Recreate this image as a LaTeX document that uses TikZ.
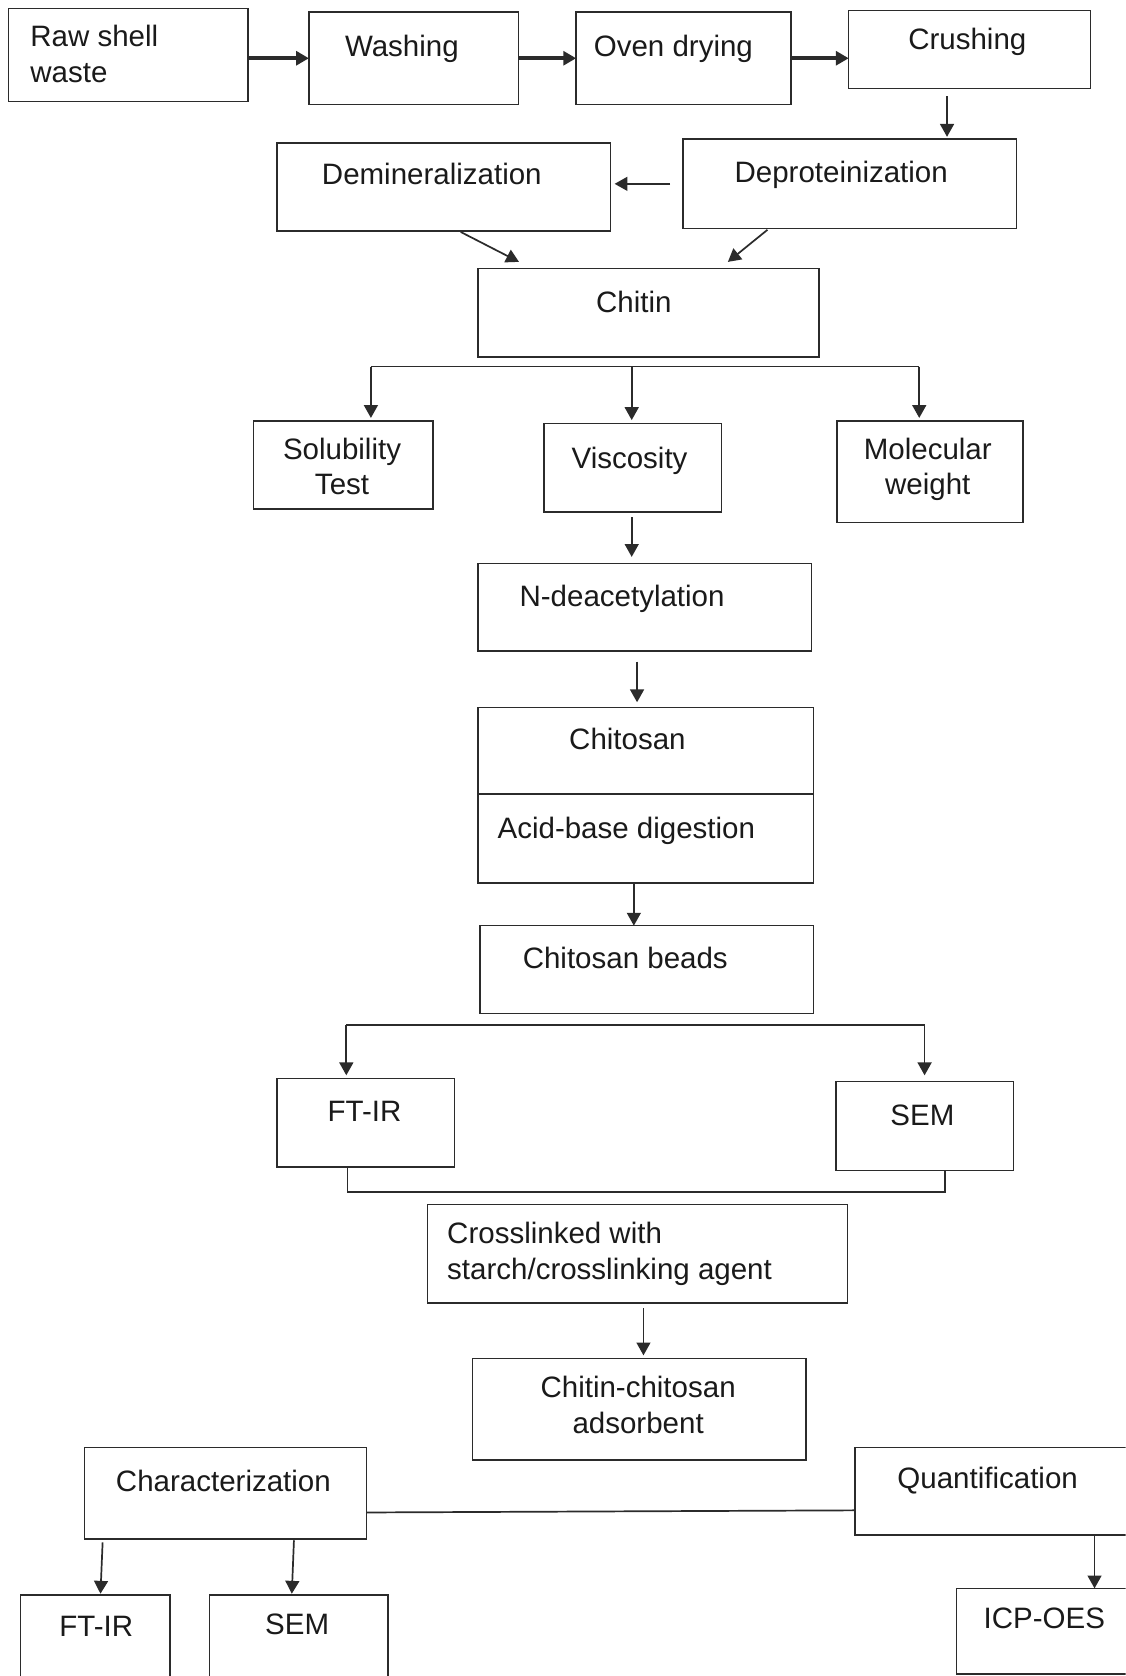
\documentclass[tikz,border=0pt]{standalone}
\usepackage{fontspec}
\setmainfont{Liberation Sans}
\usetikzlibrary{arrows.meta,calc,fit}
\definecolor{ln}{HTML}{2B2B2B}
\definecolor{tx}{HTML}{1A1A1A}
\tikzset{
  boxn/.style={draw=ln, line width=0.7pt, rectangle, inner sep=0pt, outer sep=0pt},
  txt/.style={text=tx, inner sep=0pt, font=\fontsize{13.8pt}{16.7pt}\selectfont},
  arr/.style={draw=ln, line width=0.8pt, -{Triangle[length=6pt,width=6.5pt]}},
  thickarr/.style={draw=ln, line width=1.7pt, -{Triangle[length=6pt,width=6.5pt]}},
  plain/.style={draw=ln, line width=0.8pt}
}
\begin{document}
\begin{tikzpicture}[x=0.5pt,y=-0.5pt]
\useasboundingbox (0,0) rectangle (1053,1568);
\fill[white] (0,0) rectangle (1053,1568);
\clip (0,0) rectangle (1053,1568);

% boxes
\node[boxn, fit={(8,8) (232,95)}] (raw) {};
\node[boxn, fit={(289,11) (485,98)}] (wash) {};
\node[boxn, fit={(539,11) (740,98)}] (oven) {};
\node[boxn, fit={(794,10) (1020,83)}] (crush) {};
\node[boxn, fit={(639,130) (951,214)}] (deprot) {};
\node[boxn, fit={(259,134) (571,216)}] (demin) {};
\node[boxn, fit={(447,251) (766,334)}] (chitin) {};
\node[boxn, fit={(237,394) (405,476)}] (solu) {};
\node[boxn, fit={(509,396) (675,479)}] (visc) {};
\node[boxn, fit={(783,394) (957,489)}] (molw) {};
\node[boxn, fit={(447,527) (759,609)}] (ndeac) {};
\node[boxn, fit={(447,662) (761,743)}] (chitosan) {};
\node[boxn, fit={(447,743) (761,826)}] (acid) {};
\node[boxn, fit={(449,866) (761,948)}] (beads) {};
\node[boxn, fit={(259,1009) (425,1092)}] (ftirA) {};
\node[boxn, fit={(782,1012) (948,1095)}] (semA) {};
\node[boxn, fit={(400,1127) (793,1219)}] (cross) {};
\node[boxn, fit={(442,1271) (754,1366)}] (adsorb) {};
\node[boxn, fit={(79,1354) (343,1440)}] (charz) {};
\node[boxn, fit={(800,1354) (1075,1436)}] (quant) {};
\node[boxn, fit={(19,1492) (159,1600)}] (ftirB) {};
\node[boxn, fit={(196,1492) (363,1600)}] (semB) {};
\node[boxn, fit={(895,1486) (1075,1566)}] (icp) {};

% texts (for two-line texts the base anchor is the last line)
\node[txt, anchor=base west, align=left] (rawT) at (28,77) {Raw shell\\waste};
\node[txt, anchor=base] (washT) at (376,53) {Washing};
\node[txt, anchor=base] (ovenT) at (630,53) {Oven drying};
\node[txt, anchor=base] (crushT) at (905,46.5) {Crushing};
\node[txt, anchor=base] (deminT) at (404,173) {Demineralization};
\node[txt, anchor=base] (deprotT) at (787,171) {Deproteinization};
\node[txt, anchor=base] (chitinT) at (593,292) {Chitin};
\node[txt, anchor=base, align=center] (soluT) at (320,463) {Solubility\\Test};
\node[txt, anchor=base] (viscT) at (589,438) {Viscosity};
\node[txt, anchor=base, align=center] (molwT) at (868,463) {Molecular\\weight};
\node[txt, anchor=base] (ndeacT) at (582,567) {N-deacetylation};
\node[txt, anchor=base] (chitosanT) at (587,701) {Chitosan};
\node[txt, anchor=base] (acidT) at (586,784) {Acid-base digestion};
\node[txt, anchor=base] (beadsT) at (585,906) {Chitosan beads};
\node[txt, anchor=base] (ftirAT) at (341,1049) {FT-IR};
\node[txt, anchor=base] (semAT) at (863,1052.5) {SEM};
\node[txt, anchor=base west, align=left] (crossT) at (418,1197) {Crosslinked with\\starch/crosslinking agent};
\node[txt, anchor=base, align=center] (adsorbT) at (597,1341) {Chitin-chitosan\\adsorbent};
\node[txt, anchor=base] (charzT) at (209,1395) {Characterization};
\node[txt, anchor=base] (quantT) at (924,1393) {Quantification};
\node[txt, anchor=base] (ftirBT) at (90,1531) {FT-IR};
\node[txt, anchor=base] (semBT) at (278,1529) {SEM};
\node[txt, anchor=base] (icpT) at (977,1524) {ICP-OES};

% top row
\draw[thickarr] (raw.east |- wash.west) -- (wash.west);
\draw[thickarr] (wash.east) -- (oven.west);
\draw[thickarr] (oven.east) -- (crush.west |- oven.east);
\draw[arr] ($(crush.south)+(-21,7)$) -- ($(deprot.north)+(91,-2)$);
\draw[arr] ($(deprot.west)+(-12,0)$) -- ($(demin.east |- deprot.west)+(4,0)$);
\draw[arr] ($(demin.south)+(16,1)$) -- ($(chitin.north)+(-121,-6)$);
\draw[arr] ($(deprot.south)+(-77,1)$) -- ($(chitin.north)+(74.5,-6)$);

% branch from chitin
\coordinate (bL) at (347,343);
\coordinate (bM) at (591,343);
\coordinate (bR) at (860,343);
\draw[plain] (bL) -- (bR);
\draw[arr, shorten >=1.5pt] (bL) -- (bL |- solu.north);
\draw[arr, shorten >=1.5pt] (bM) -- (bM |- visc.north);
\draw[arr, shorten >=1.5pt] (bR) -- (bR |- molw.north);

\draw[arr, shorten <=2.5pt, shorten >=3pt] ($(visc.south)+(-1,0)$) -- ($(visc.south |- ndeac.north)+(-1,0)$);
\draw[arr, shorten <=5pt, shorten >=2.5pt] ($(ndeac.south)+(-7,0)$) -- ($(ndeac.south |- chitosan.north)+(-7,0)$);
\draw[arr] ($(acid.south)+(-11,0)$) -- ($(acid.south |- beads.north)+(-11,0)$);

% branch from beads
\coordinate (cL) at (324,959);
\coordinate (cR) at (865,959);
\draw[plain] (cL) -- (cR);
\draw[arr, shorten >=1.5pt] (cL) -- (cL |- ftirA.north);
\draw[arr, shorten >=3pt] (cR) -- (cR |- semA.north);
\draw[plain] ($(ftirA.south)+(-17,0)$) -- ++(0,23) -| ($(semA.south)+(19,0)$);

\draw[arr, shorten <=2.5pt, shorten >=1.5pt] ($(cross.south)+(5.5,0)$) -- ($(cross.south |- adsorb.north)+(5.5,0)$);

% bottom
\draw[plain] ($(charz.east)+(0,18)$) -- ($(quant.west)+(0,18)$);
\draw[arr] ($(charz.south)+(-115,3)$) -- ($(ftirB.north)+(5,-1)$);
\draw[arr] ($(charz.south)+(64,1)$) -- ($(semB.north)+(-6.5,-1)$);
\coordinate (qx) at (1024,0);
\draw[arr] (quant.south -| qx) -- (icp.north -| qx);
\end{tikzpicture}
\end{document}
